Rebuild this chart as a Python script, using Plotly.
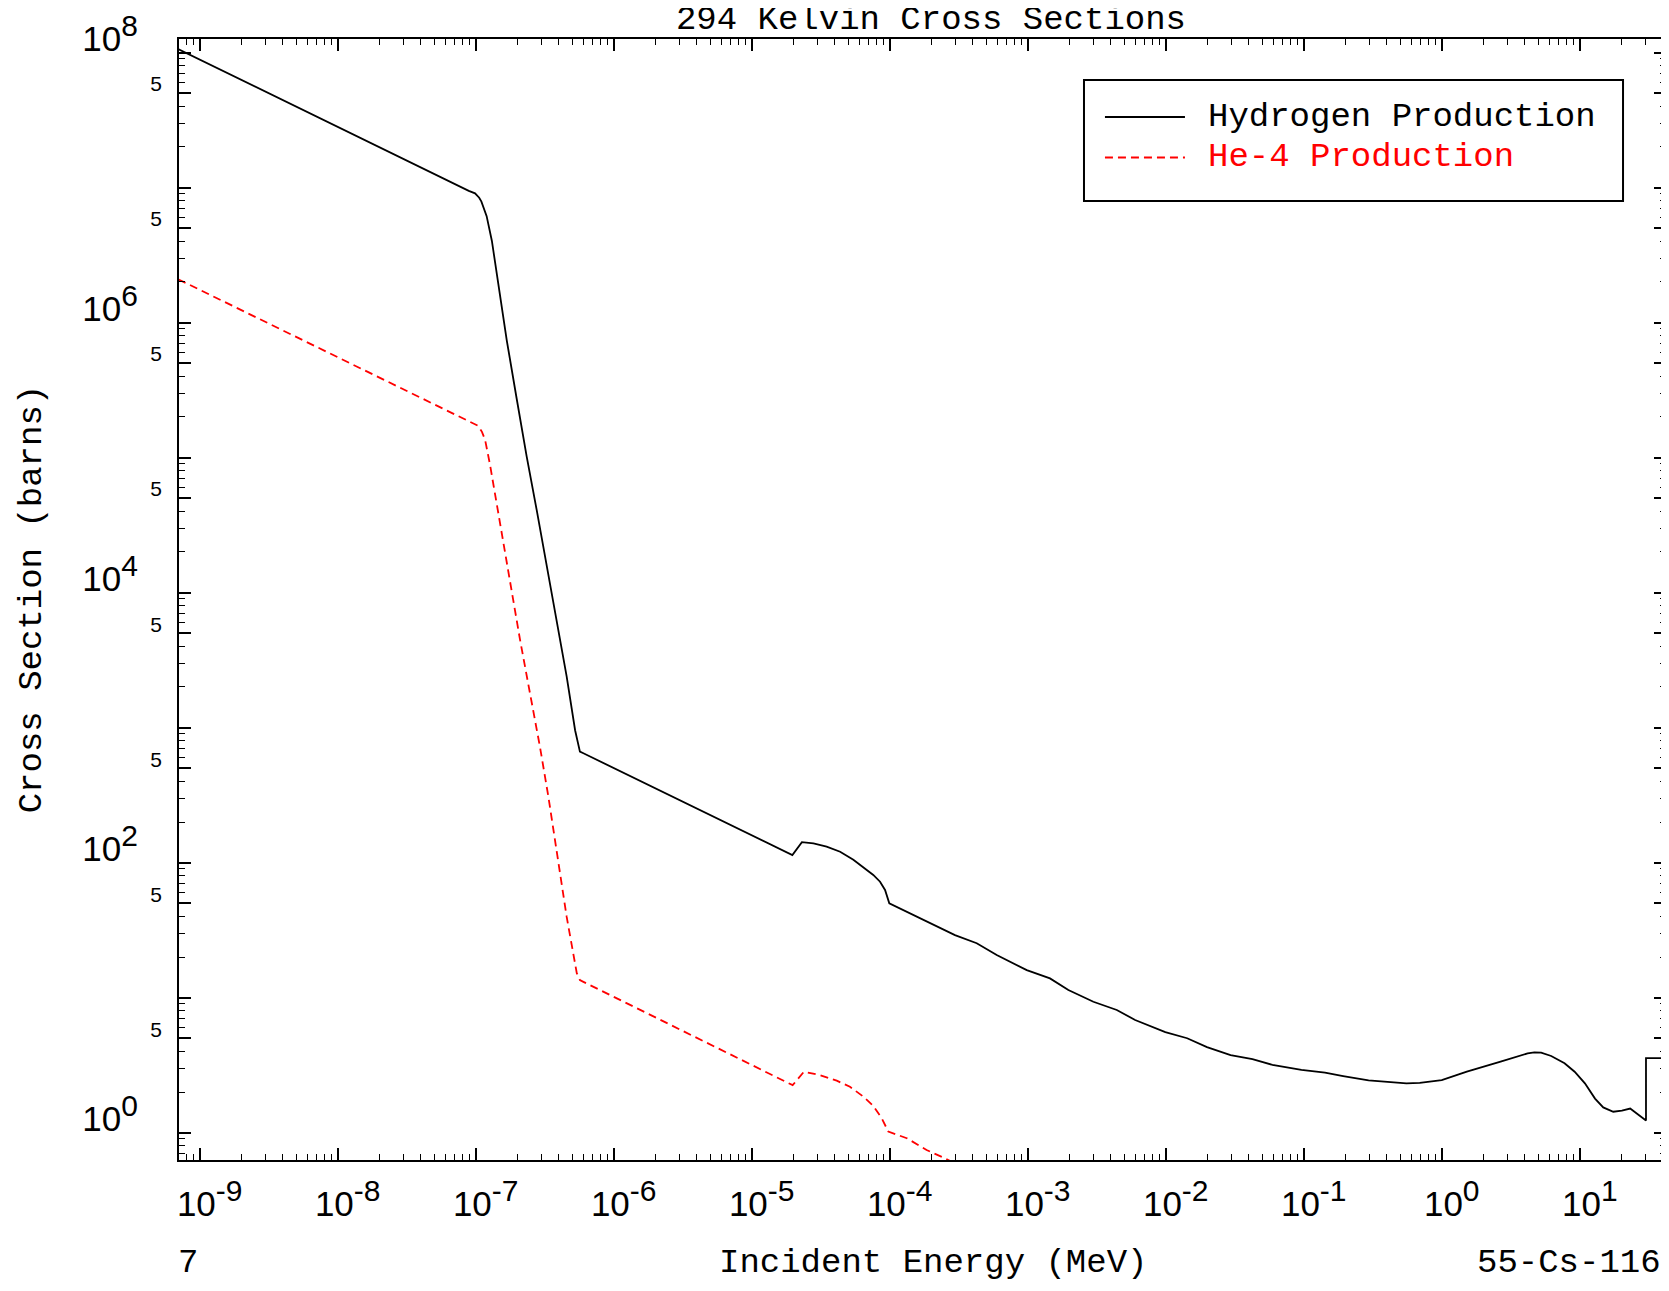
import plotly.graph_objects as go

# Hydrogen production, energy in MeV, cross section in barns
h_energy = [7.00e-10, 2.82e-8, 8.91e-8, 9.89e-8, 1.06e-7, 1.10e-7, 1.20e-7, 1.31e-7,
            1.42e-7, 1.68e-7, 1.98e-7, 2.34e-7, 2.77e-7, 3.27e-7, 3.86e-7, 4.56e-7,
            5.25e-7, 5.55e-7, 5.69e-7, 6.03e-7, 1.97e-5, 2.31e-5, 2.80e-5, 3.49e-5,
            4.37e-5, 5.45e-5, 6.62e-5, 7.60e-5, 8.51e-5, 9.25e-5, 9.93e-5, 1.96e-4,
            2.97e-4, 4.27e-4, 5.96e-4, 9.84e-4, 1.45e-3, 1.97e-3, 2.99e-3, 4.42e-3,
            6.00e-3, 9.93e-3, 1.43e-2, 1.99e-2, 2.95e-2, 4.25e-2, 5.93e-2, 9.62e-2,
            0.1426, 0.193, 0.295, 0.555, 0.693, 1.0, 1.52, 2.67, 3.54, 4.19, 4.69,
            5.25, 6.21, 7.76, 9.18, 10.9, 12.9, 14.8, 17.5, 20.2, 23.2, 26.0,
            30.2, 30.2, 150.0]
h_xs = [1.06e8, 1.67e7, 9.44e6, 9.06e6, 8.41e6, 7.87e6, 6.14e6, 4.02e6,
        2.28e6, 7.36e5, 2.74e5, 1.02e5, 4.06e4, 1.62e4, 6.46e3, 2.40e3,
        957, 723, 664, 646, 114, 142, 139, 131.5,
        120.5, 105, 90.8, 81.1, 72.3, 62.8, 50.0, 35.6,
        29.1, 25.3, 20.7, 16.0, 13.9, 11.4, 9.33, 8.11,
        6.84, 5.56, 5.01, 4.30, 3.76, 3.51, 3.18, 2.92,
        2.79, 2.63, 2.44, 2.32, 2.34, 2.45, 2.83, 3.36, 3.70, 3.87, 3.94,
        3.92, 3.70, 3.27, 2.83, 2.32, 1.79, 1.54, 1.43, 1.46, 1.51, 1.39,
        1.23, 3.57, 3.57]

# He-4 production
he_energy = [7.00e-10, 2.82e-8, 8.91e-8, 1.04e-7, 1.11e-7, 1.17e-7, 1.27e-7, 1.50e-7,
             1.77e-7, 2.09e-7, 2.47e-7, 2.92e-7, 3.36e-7, 3.86e-7, 4.56e-7, 5.40e-7,
             5.69e-7, 6.03e-7, 1.98e-5, 2.39e-5, 3.13e-5, 4.13e-5, 5.15e-5, 6.44e-5,
             7.60e-5, 8.75e-5, 9.77e-5, 1.33e-4, 1.85e-4, 2.52e-4, 3.55e-4]
he_xs = [2.09e6, 3.30e5, 1.86e5, 1.72e5, 1.55e5, 1.35e5, 8.83e4, 3.28e4,
         1.22e4, 4.54e3, 1.81e3, 723, 309, 124, 39.8, 15.2,
         13.5, 13.1, 2.25, 2.83, 2.67, 2.43, 2.19, 1.85,
         1.58, 1.28, 1.02, 0.91, 0.745, 0.646, 0.537]

x_decades = [-9, -8, -7, -6, -5, -4, -3, -2, -1, 0, 1]
y_decades = [0, 1, 2, 3, 4, 5, 6, 7, 8]

MONO = "Liberation Mono"
SANS = "Liberation Sans"
NB = "\u00a0"


def power_label(d):
    return f"10<sup><span style='font-size:30px'>{d}</span></sup>"


fig = go.Figure()
fig.add_trace(go.Scatter(x=h_energy, y=h_xs, mode="lines", name="Hydrogen Production",
                         line=dict(color="black", width=1.8), showlegend=False))
fig.add_trace(go.Scatter(x=he_energy, y=he_xs, mode="lines", name="He-4 Production",
                         line=dict(color="red", width=1.8, dash="8px,5px"), showlegend=False))

# y ticks: labelled even decades, bare odd decades, small "5" at 5*10^n
y_vals, y_text = [], []
for d in y_decades:
    y_vals.append(10 ** d)
    if d % 2 == 0:
        y_text.append(power_label(d) + f"<span style='font-size:29px'>{NB*3}</span>")
    else:
        y_text.append("")
    if d < 8:
        y_vals.append(5 * 10 ** d)
        y_text.append("<span style='font-size:21px'>5</span>")

axis_common = dict(type="log", ticks="inside", ticklen=12, tickwidth=1.5, tickcolor="black",
                   minor=dict(ticks="inside", ticklen=6, dtick="D1", tickcolor="black", tickwidth=1),
                   showline=True, linecolor="black", linewidth=2, mirror="ticks",
                   showgrid=False, zeroline=False, automargin=False,
                   tickfont=dict(family=SANS, size=35, color="black"))

fig.update_xaxes(range=[-9.15, 1.625],
                 tickvals=[10 ** d for d in x_decades],
                 ticktext=[power_label(d) for d in x_decades],
                 ticklabelstandoff=12, ticklabelshift=10, **axis_common)
fig.update_yaxes(range=[-0.202, 8.10], tickvals=y_vals, ticktext=y_text,
                 ticklabelstandoff=8, ticklabelshift=-14, **axis_common)

# Legend drawn by hand so the line samples are as long as in the original
fig.add_shape(type="rect", xref="paper", yref="paper", x0=0.6086, x1=0.9711,
              y0=0.8555, y1=0.9634, line=dict(color="black", width=2))
fig.add_shape(type="line", xref="paper", yref="paper", x0=0.6227, x1=0.6765,
              y0=0.9304, y1=0.9304, line=dict(color="black", width=1.8))
fig.add_shape(type="line", xref="paper", yref="paper", x0=0.6227, x1=0.6765,
              y0=0.8943, y1=0.8943, line=dict(color="red", width=1.8, dash="8px,5px"))
fig.add_annotation(text="Hydrogen Production", xref="paper", yref="paper", x=0.6906, y=0.9304,
                   xanchor="left", yanchor="middle", showarrow=False,
                   font=dict(family=MONO, size=34, color="black"))
fig.add_annotation(text="He-4 Production", xref="paper", yref="paper", x=0.6906, y=0.8943,
                   xanchor="left", yanchor="middle", showarrow=False,
                   font=dict(family=MONO, size=34, color="red"))

# Axis titles and footer texts
fig.add_annotation(text="Cross Section (barns)", xref="paper", yref="paper", x=-0.099, y=0.5,
                   textangle=-90, xanchor="center", yanchor="middle", showarrow=False,
                   font=dict(family=MONO, size=34, color="black"))
fig.add_annotation(text="Incident Energy (MeV)", xref="paper", yref="paper", x=0.507, y=-0.092,
                   xanchor="center", yanchor="middle", showarrow=False,
                   font=dict(family=MONO, size=34, color="black"))
fig.add_annotation(text="7", xref="paper", yref="paper", x=-0.002, y=-0.092,
                   xanchor="left", yanchor="middle", showarrow=False,
                   font=dict(family=MONO, size=34, color="black"))
fig.add_annotation(text="55-Cs-116", xref="paper", yref="paper", x=0.998, y=-0.092,
                   xanchor="right", yanchor="middle", showarrow=False,
                   font=dict(family=MONO, size=34, color="black"))

# the page adds an 8 px body margin, so the figure is laid out 8 px up and left
fig.update_layout(width=1669, height=1291,
                  margin=dict(l=171, r=11, t=31, b=139),
                  paper_bgcolor="white", plot_bgcolor="white",
                  title=dict(text="294 Kelvin Cross Sections", x=0.553, xanchor="center",
                             y=0.993, yanchor="middle", automargin=False,
                             font=dict(family=MONO, size=34, color="black")))

fig.write_html("out.html")
